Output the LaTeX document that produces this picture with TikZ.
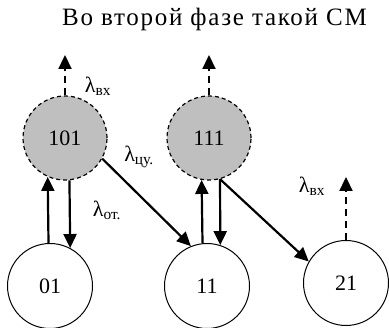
\documentclass[tikz,border=0pt]{standalone}
\usepackage{fontspec}
\setmainfont{Liberation Serif}
\usetikzlibrary{arrows.meta}
\begin{document}
\begin{tikzpicture}[x=1pt,y=-1pt,
  statebox/.style={circle,draw=black,line width=1pt,minimum size=85pt,inner sep=0pt,font=\fontsize{22}{24}\selectfont},
  phasebox/.style={circle,draw=black,dashed,dash pattern=on 4pt off 3pt,line width=1.2pt,fill=black!25,minimum size=84pt,inner sep=0pt,font=\fontsize{22}{24}\selectfont},
  tr/.style={line width=2.2pt,-{Triangle[length=14pt,width=13pt]}},
  dtr/.style={line width=2.2pt,dash pattern=on 7pt off 5pt,-{Triangle[length=14pt,width=13pt]}},
  lab/.style={font=\fontsize{22}{24}\selectfont,inner sep=0pt}
]
\useasboundingbox (0,0) rectangle (389,328);
\node[anchor=base west,inner sep=0pt,font=\fontsize{25}{27}\selectfont\addfontfeature{LetterSpace=7}] (head) at (62,26) {Во второй фазе такой СМ};

\node[phasebox] (n101) at (65,138) {101};
\node[phasebox] (n111) at (209,138) {111};
\node[statebox] (n01) at (50,286) {01};
\node[statebox] (n11) at (207,286) {11};
\node[statebox] (n21) at (346,283) {21};

\coordinate (o101) at (65,55);
\coordinate (o111) at (209,55);
\coordinate (o21) at (346,177);

\draw[dtr] (n101.north) -- (o101);
\draw[dtr] (n111.north) -- (o111);
\draw[dtr] (n21.north) -- (o21);

\draw[tr] (n01.92.7) -- (n101.246.1);
\draw[tr] (n101.276.8) -- (n01.62.3);
\draw[tr] (n11.96.7) -- (n111.260.4);
\draw[tr] (n111.285.2) -- (n11.72.4);
\draw[tr] (n101.331.6) -- (n11.112.5);
\draw[tr] (n111.285.8) -- (n21.150.4);

\node[lab] (l1) at (98,86) {λ\textsubscript{вх}};
\node[lab] (l2) at (139,157) {λ\textsubscript{цу.}};
\node[lab] (l3) at (107,210) {λ\textsubscript{от.}};
\node[lab] (l4) at (312,186) {λ\textsubscript{вх}};
\end{tikzpicture}
\end{document}
